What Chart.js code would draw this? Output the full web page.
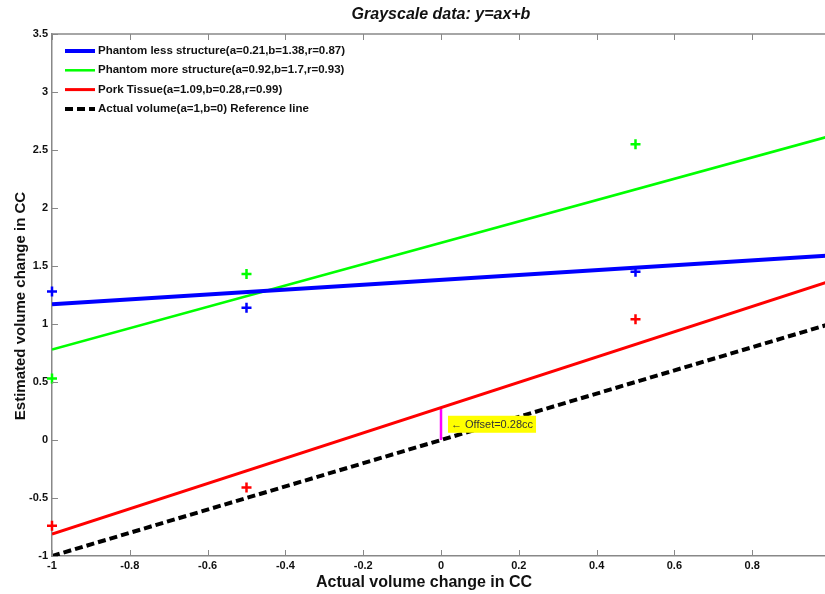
<!DOCTYPE html>
<html>
<head>
<meta charset="utf-8">
<script src="https://cdn.jsdelivr.net/npm/chart.js@4.4.1/dist/chart.umd.min.js"></script>
<style>
  html, body { margin: 0; padding: 0; background: #fff; overflow: hidden; }
  #wrap { width: 830px; height: 594px; }
</style>
</head>
<body>
<div id="wrap"><canvas id="grafik"></canvas></div>
<script>
// measured points: actual vs estimated volume change (cc)
const actualVol = [-1, -0.5, 0.5];
const lessStructure = [1.28, 1.14, 1.45];
const moreStructure = [0.53, 1.43, 2.55];
const porkTissue = [-0.74, -0.41, 1.04];

// linear fits y = a*x + b
const fitNames = [
  'Phantom less structure(a=0.21,b=1.38,r=0.87)',
  'Phantom more structure(a=0.92,b=1.7,r=0.93)',
  'Pork Tissue(a=1.09,b=0.28,r=0.99)',
  'Actual volume(a=1,b=0) Reference line'
];
const fitA = [0.21, 0.92, 1.09, 1];
const fitB = [1.38, 1.7, 0.28, 0];
const fitColors = ['#0000ff', '#00ff00', '#ff0000', '#000000'];
const fitWidths = [4, 2.5, 3, 4];
const refDash = [8, 4];
const xRange = [-1, 1];

const offsetValue = 0.28;
const offsetLabel = '\u2190 Offset=0.28cc';

const titleText = 'Grayscale data: y=ax+b';
const xTitle = 'Actual volume change in CC';
const yTitle = 'Estimated volume change in CC';

const tickFont = { family: '"Liberation Sans Narrow", "Liberation Sans", Arial', size: 11, weight: 'bold' };

function pts(ys) {
  return actualVol.map((x, i) => ({ x: x, y: ys[i] }));
}

const datasets = [];
fitNames.forEach((name, i) => {
  datasets.push({
    label: name,
    data: xRange.map(x => ({ x: x, y: fitA[i] * x + fitB[i] })),
    showLine: true,
    borderColor: fitColors[i],
    backgroundColor: fitColors[i],
    borderWidth: fitWidths[i],
    borderDash: i === 3 ? refDash : [],
    pointRadius: 0
  });
});
[lessStructure, moreStructure, porkTissue].forEach((ys, i) => {
  datasets.push({
    label: 'pts' + i,
    data: pts(ys),
    showLine: false,
    clip: false,
    pointStyle: 'cross',
    pointRadius: 5,
    pointBorderWidth: 2.5,
    borderColor: fitColors[i],
    backgroundColor: fitColors[i]
  });
});
// vertical offset marker between pork fit and reference line at x = 0
datasets.push({
  label: 'offset',
  data: [{ x: 0, y: 0 }, { x: 0, y: offsetValue }],
  showLine: true,
  borderColor: '#ff00ff',
  borderWidth: 2.5,
  pointRadius: 0
});

// inner tick marks, titles, legend and the offset note
const extras = {
  id: 'extras',
  afterDraw(chart) {
    const ctx = chart.ctx;
    const a = chart.chartArea;
    const xs = chart.scales.x, ys = chart.scales.y;
    ctx.save();
    ctx.strokeStyle = '#888';
    ctx.lineWidth = 1;
    xs.ticks.forEach(t => {
      const px = Math.round(xs.getPixelForValue(t.value)) + 0.5;
      ctx.beginPath();
      ctx.moveTo(px, a.bottom); ctx.lineTo(px, a.bottom - 6);
      ctx.moveTo(px, a.top); ctx.lineTo(px, a.top + 6);
      ctx.stroke();
    });
    ys.ticks.forEach(t => {
      const py = Math.round(ys.getPixelForValue(t.value)) + 0.5;
      ctx.beginPath();
      ctx.moveTo(a.left, py); ctx.lineTo(a.left + 6, py);
      ctx.stroke();
    });
    // top box edge
    ctx.lineWidth = 1.5;
    ctx.beginPath();
    ctx.moveTo(a.left, a.top); ctx.lineTo(a.right, a.top);
    ctx.stroke();

    ctx.fillStyle = '#111';
    ctx.textAlign = 'center';
    ctx.textBaseline = 'middle';

    // title
    ctx.font = 'italic bold 16px "Liberation Sans", Arial';
    ctx.fillText(titleText, 441, 15);

    // axis titles
    ctx.font = 'bold 16px "Liberation Sans", Arial';
    ctx.fillText(xTitle, 424, 583);
    ctx.save();
    ctx.translate(21, 306);
    ctx.rotate(-Math.PI / 2);
    ctx.font = 'bold 15px "Liberation Sans", Arial';
    ctx.fillText(yTitle, 0, 0);
    ctx.restore();

    // legend, top-left inside the axes
    ctx.font = 'bold 11.5px "Liberation Sans", Arial';
    ctx.textAlign = 'left';
    fitNames.forEach((n, i) => {
      const ly = a.top + 17 + i * 19.3;
      ctx.beginPath();
      ctx.strokeStyle = fitColors[i];
      ctx.lineWidth = fitWidths[i];
      ctx.setLineDash(i === 3 ? refDash : []);
      ctx.moveTo(a.left + 13, ly);
      ctx.lineTo(a.left + 43, ly);
      ctx.stroke();
      ctx.setLineDash([]);
      ctx.fillStyle = '#111';
      ctx.fillText(n, a.left + 46, ly);
    });

    // offset note
    ctx.font = '11px "Liberation Sans Narrow", "Liberation Sans", Arial';
    const bx = xs.getPixelForValue(0) + 7;
    const by = ys.getPixelForValue(offsetValue / 2);
    const w = ctx.measureText(offsetLabel).width + 6;
    ctx.fillStyle = '#ffff00';
    ctx.fillRect(bx, by - 8, w, 17);
    ctx.fillStyle = '#333';
    ctx.fillText(offsetLabel, bx + 3, by + 1);
    ctx.restore();
  }
};

new Chart(document.getElementById('grafik'), {
  type: 'scatter',
  data: { datasets: datasets },
  options: {
    responsive: true,
    maintainAspectRatio: false,
    animation: false,
    layout: { autoPadding: false, padding: { top: 34, right: 0, bottom: 0, left: 0 } },
    plugins: {
      legend: { display: false },
      tooltip: { enabled: false }
    },
    scales: {
      x: {
        type: 'linear',
        min: -1, max: 1,
        afterFit(s) { s.height = 38; s.paddingRight = 0; },
        ticks: {
          stepSize: 0.2,
          padding: 3,
          color: '#111',
          font: tickFont,
          maxRotation: 0,
          callback: v => (Math.abs(v - 1) < 1e-9 ? '' : String(Number(v.toFixed(1))))
        },
        grid: { drawOnChartArea: false, drawTicks: false },
        border: { color: '#888', width: 1.5 }
      },
      y: {
        type: 'linear',
        min: -1, max: 3.5,
        afterFit(s) { s.width = 52; },
        ticks: {
          stepSize: 0.5,
          padding: 4,
          color: '#111',
          font: tickFont,
          callback: v => String(Number(v.toFixed(1)))
        },
        grid: { drawOnChartArea: false, drawTicks: false },
        border: { color: '#888', width: 1.5 }
      }
    }
  },
  plugins: [extras]
});
</script>
</body>
</html>
